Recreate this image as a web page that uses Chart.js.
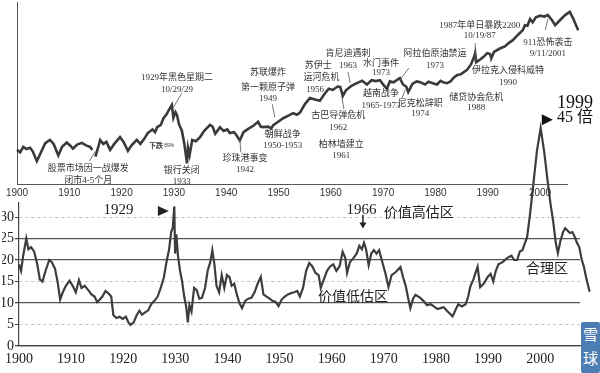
<!DOCTYPE html>
<html>
<head>
<meta charset="utf-8">
<script src="https://cdn.jsdelivr.net/npm/chart.js@4"></script>
<style>
  body { margin: 0; background: #fff; }
  #wrap { position: relative; width: 600px; height: 373px; overflow: hidden; }
  canvas { position: absolute; left: 0; top: 0; }
  #logo { position: absolute; left: 581px; top: 322px; width: 19px; height: 51px; background: #4d7eb3;
          color: #fff; font: 15px "Noto Sans CJK SC"; line-height: 24px; text-align: center; border-radius: 2px; }
</style>
</head>
<body>
<div id="wrap">
  <canvas id="peChart" width="600" height="373"></canvas>
  <canvas id="dowChart" width="600" height="200"></canvas>
  <div id="logo">雪<br>球</div>
</div>
<script>
// Dow Jones (top panel, log scale)
const dowYears = [
  1900.0, 1900.6, 1901.2, 1901.8, 1902.5, 1903.0, 1903.8, 1904.5, 1905.4, 1906.3, 1907.0, 1907.9, 1908.6, 1909.5,
  1910.2, 1910.7, 1911.5, 1912.4, 1913.2, 1914.0, 1914.4, 1914.6, 1915.0, 1915.5, 1915.9, 1916.5, 1917.1, 1917.8, 1918.6, 1919.7,
  1920.4, 1921.2, 1921.9, 1922.9, 1923.6, 1924.3, 1925.0, 1925.9, 1926.4, 1926.8, 1927.5, 1928.0, 1928.6, 1929.0, 1929.6, 1929.9,
  1930.3, 1930.6, 1931.0, 1931.5, 1932.0, 1932.5, 1932.7, 1933.0, 1933.5, 1934.2, 1935.0, 1935.8, 1936.9, 1937.4, 1937.9, 1938.8, 1939.5,
  1940.2, 1940.7, 1941.5, 1942.0, 1942.6, 1943.3, 1944.2, 1945.2, 1946.1, 1946.6, 1947.0, 1948.0, 1948.6, 1949.0,
  1950.0, 1950.9, 1951.8, 1952.8, 1953.5, 1954.1, 1955.0, 1956.0, 1956.8, 1957.9, 1958.8, 1959.6,
  1960.4, 1961.3, 1961.8, 1962.3, 1962.9, 1963.6, 1964.2, 1965.2, 1966.0, 1966.9, 1967.8, 1968.6, 1969.4,
  1970.0, 1970.7, 1971.3, 1972.0, 1972.8, 1973.2, 1973.8, 1974.4, 1974.8, 1975.6, 1976.4, 1977.1, 1978.0, 1978.7, 1979.5,
  1980.3, 1981.0, 1981.6, 1982.2, 1982.9, 1983.5, 1984.1, 1984.9, 1986.0, 1986.8, 1987.4, 1987.6, 1987.8, 1988.5, 1989.2, 1989.9,
  1990.4, 1990.7, 1991.2, 1992.4, 1993.3, 1994.0, 1994.8, 1995.8, 1996.7, 1997.1, 1997.6, 1998.1, 1998.6, 1999.2,
  2000.0, 2000.8, 2001.5, 2002.3, 2002.9, 2003.8, 2004.8, 2005.7, 2006.3, 2007.3
];
const dowValues = [
  55, 50, 62, 57, 60, 52, 35, 48, 72, 82, 70, 44, 62, 74,
  65, 58, 68, 73, 66, 62, 55, null, 42, 60, 82, 70, 76, 55, 70, 92,
  75, 53, 66, 82, 70, 85, 108, 125, 112, 137, 150, 196, 230, 270, 335, 200,
  250, 221, 150, 121, 70, 32, 60, 45, 82, 78, 92, 118, 150, 140, 105, 137, 118,
  125, 108, 112, 98, 80, 112, 128, 145, 170, 140, 137, 140, 130, 148,
  172, 196, 215, 240, 225, 245, 340, 440, 420, 395, 520, 640,
  610, 700, 690, 480, 600, 680, 740, 820, 880, 760, 900, 870, 903,
  760, 640, 860, 830, 930, 980, 760, 700, 560, 780, 860, 833, 760, 850, 800,
  760, 880, 820, 800, 860, 1000, 1100, 1150, 1350, 1700, 2300, 2670, 1860, 2050, 2300, 2670,
  2600, 2200, 2800, 3250, 3500, 4000, 4500, 5600, 6700, 8200, 8000, 10500, 9200, 11300,
  12000, 11600, 12300, 10000, 8200, 10000, 12300, 14000, 10900, 6700
];

// Shiller P/E (bottom panel)
const peYears = [
  1900.0, 1900.4, 1900.8, 1901.4, 1901.8, 1902.3, 1902.9, 1903.5, 1904.0, 1904.5, 1905.1, 1905.8, 1906.3, 1906.9, 1907.4, 1907.9, 1908.4, 1909.0, 1909.7,
  1910.3, 1910.9, 1911.5, 1912.0, 1912.6, 1913.3, 1913.9, 1914.5, 1915.0, 1915.5, 1916.0, 1916.6, 1917.2, 1917.7, 1918.1, 1918.7, 1919.3, 1919.9,
  1920.5, 1921.0, 1921.4, 1922.0, 1922.6, 1923.1, 1923.6, 1924.2, 1924.8, 1925.4, 1926.0, 1926.6, 1927.2, 1927.8, 1928.3, 1928.8, 1929.2, 1929.5, 1929.8, 1929.95,
  1930.2, 1930.5, 1930.9, 1931.3, 1931.7, 1932.1, 1932.4, 1932.7, 1933.1, 1933.6, 1934.1, 1934.6, 1935.1, 1935.7, 1936.2, 1936.7, 1937.1, 1937.5, 1937.9, 1938.4, 1938.9, 1939.4, 1939.9,
  1940.4, 1940.8, 1941.3, 1941.8, 1942.3, 1942.8, 1943.4, 1944.0, 1944.6, 1945.2, 1945.8, 1946.4, 1946.9, 1947.5, 1948.1, 1948.6, 1949.2, 1949.8,
  1950.4, 1951.0, 1951.6, 1952.2, 1952.8, 1953.4, 1953.9, 1954.5, 1955.1, 1955.7, 1956.3, 1956.9, 1957.5, 1957.9, 1958.5, 1959.1, 1959.7,
  1960.3, 1960.9, 1961.5, 1962.1, 1962.6, 1962.95, 1963.5, 1964.2, 1964.8, 1965.3, 1965.8, 1966.2, 1966.6, 1967.1, 1967.6, 1968.1, 1968.6, 1969.1, 1969.6,
  1970.3, 1970.9, 1971.5, 1972.3, 1973.2, 1973.7, 1974.2, 1974.7, 1975.1, 1975.6, 1976.1, 1976.6, 1977.0, 1977.6, 1978.3, 1979.0, 1979.6,
  1980.3, 1980.9, 1981.5, 1982.2, 1982.7, 1983.2, 1983.8, 1984.3, 1985.0, 1985.7, 1986.2, 1986.6, 1987.2, 1987.6, 1988.0, 1988.5, 1989.2, 1989.9,
  1990.5, 1991.0, 1991.5, 1992.0, 1992.8, 1993.7, 1994.5, 1995.0, 1995.6, 1996.1, 1996.6, 1997.1, 1997.5, 1998.1, 1998.7, 1999.4,
  2000.1, 2000.8, 2001.5, 2002.0, 2002.5, 2003.0, 2003.4, 2003.9, 2004.4, 2004.8, 2005.3, 2005.7, 2006.2, 2006.7, 2007.0, 2007.5, 2008.0, 2008.4, 2008.9, 2009.5
];
const peValues = [
  19.0, 17.5, 21.0, 25.0, 22.5, 23.0, 22.0, 19.0, 15.5, 15.0, 17.5, 20.0, 19.5, 18.0, 15.0, 10.8, 12.5, 14.0, 15.2,
  14.0, 12.5, 15.3, 13.5, 14.0, 13.0, 12.0, 11.5, 10.2, 10.8, 11.5, 12.8, 12.2, 11.5, 7.2, 6.5, 6.8, 6.3,
  6.8, 5.5, 4.9, 5.5, 7.2, 8.2, 7.3, 7.8, 8.3, 9.8, 10.5, 11.5, 13.5, 16.0, 19.5, 22.5, 26.5, 27.5, 32.5, 21.5,
  26.0, 21.0, 17.5, 15.0, 11.5, 9.0, 5.5, 9.5, 8.0, 13.5, 13.0, 11.0, 11.2, 13.5, 17.5, 19.5, 22.3, 19.0, 14.0, 12.5, 16.5, 13.5, 16.5,
  16.0, 14.0, 14.5, 12.0, 10.0, 8.8, 10.5, 11.0, 11.2, 12.5, 14.5, 16.1, 12.0, 11.5, 11.0, 10.5, 10.3, 9.3,
  10.8, 11.5, 12.0, 12.3, 12.5, 12.8, 11.5, 13.5, 17.5, 19.3, 18.5, 17.0, 16.5, 13.5, 15.5, 17.5, 18.5,
  19.0, 17.5, 18.5, 21.9, 20.5, 17.0, 19.5, 20.5, 21.5, 23.3, 22.5, 24.0, 22.5, 18.8, 21.5, 22.3, 21.5, 22.3, 20.0,
  17.0, 13.7, 16.5, 17.2, 18.4, 16.0, 14.0, 11.0, 8.8, 11.0, 11.9, 11.5, 11.2, 10.5, 9.5, 9.7, 9.2,
  8.6, 8.8, 9.0, 8.1, 7.5, 6.9, 8.5, 9.7, 9.2, 9.7, 11.5, 13.8, 15.5, 17.0, 18.4, 13.7, 14.5, 16.0,
  16.8, 15.0, 17.5, 19.0, 19.5, 20.5, 21.0, 20.0, 20.0, 22.0, 22.3, 24.0, 25.3, 31.0, 37.7, 45.5,
  50.7, 45.0, 37.7, 33.0, 29.0, 24.0, 21.6, 24.5, 26.5, 27.4, 26.8, 26.3, 26.5, 25.2, 24.2, 23.0, 20.0, 18.4, 15.5, 12.6
];

const decadeTicks = [1900, 1910, 1920, 1930, 1940, 1950, 1960, 1970, 1980, 1990, 2000];
const peTicks = [0, 5, 10, 15, 20, 25, 30];
const solidLevels = [0, 10, 20, 25];

// event labels on the Dow panel: [year, dow level, text]
const dowNotes = [
  [1913.6, 26, '股票市场因一战爆发'], [1913.6, 16.3, '闭市4-5个月'],
  [1930.6, 980, '1929年黑色星期二'], [1930.6, 630, '10/29/29'],
  [1931.5, 24, '银行关闭'], [1931.5, 15.6, '1933'],
  [1943.6, 39, '珍珠港事变'], [1943.6, 25, '1942'],
  [1948.0, 1200, '苏联爆炸'], [1948.0, 682, '第一颗原子弹'], [1948.0, 438, '1949'],
  [1950.8, 103, '朝鲜战争'], [1950.8, 64, '1950-1953'],
  [1957.6, 1586, '苏伊士'], [1958.2, 980, '运河危机'], [1957.0, 630, '1956'],
  [1961.4, 221, '古巴导弹危机'], [1961.4, 137, '1962'],
  [1962.0, 69, '柏林墙建立'], [1962.0, 44, '1961'],
  [1963.3, 2567, '肯尼迪遇刺'], [1963.3, 1650, '1963'],
  [1969.6, 1788, '水门事件'], [1969.6, 1200, '1973'],
  [1969.6, 536, '越南战争'], [1969.6, 331, '1965-1973'],
  [1979.9, 2670, '阿拉伯原油禁运'], [1979.9, 1650, '1973'],
  [1977.1, 359, '尼克松辞职'], [1977.1, 240, '1974'],
  [1988.5, 7900, '1987年单日暴跌2200'], [1988.5, 5300, '10/19/87'],
  [1993.9, 1300, '伊拉克入侵科威特'], [1993.9, 833, '1990'],
  [1987.8, 456, '储贷协会危机'], [1987.8, 305, '1988'],
  [2001.5, 4150, '911恐怖袭击'], [2001.5, 2670, '9/11/2001']
];
const dowLeaders = [
  [1913.8, 35, 1915.0, 52], [1931.5, 536, 1929.8, 293], [1942.8, 50, 1942.6, 88],
  [1948.8, 344, 1949.3, 204], [1962.5, 282, 1962.1, 475], [1963.3, 1246, 1963.7, 801],
  [1974.9, 1463, 1973.2, 903], [1973.6, 438, 1974.2, 604], [1987.6, 3990, 1987.6, 1860],
  [1990.4, 2670, 1990.6, 1860], [2001.0, 6730, 2001.5, 10470]
];
const peakNotes = [[2006.7, 359, '1999'], [2006.7, 196, '45 倍']];

// labels on the P/E panel: [year, pe, text]
const peNotes = [
  [1919.1, 31.6, '1929'], [1965.7, 31.6, '1966'],
  [1976.7, 30.9, '价值高估区'], [2001.3, 17.9, '合理区'], [1964.1, 11.4, '价值低估区']
];

const SERIF = '"Liberation Serif", "Noto Sans CJK SC"';

function pos(chart, yId, x, y) {
  return [chart.scales.x.getPixelForValue(x), chart.scales[yId].getPixelForValue(y)];
}
function rightTriangle(ctx, cx, cy, w, h) {
  ctx.beginPath();
  ctx.moveTo(cx - w / 2, cy - h / 2);
  ctx.lineTo(cx + w / 2, cy);
  ctx.lineTo(cx - w / 2, cy + h / 2);
  ctx.closePath();
  ctx.fill();
}

const dowNotesPlugin = {
  id: 'dowNotes',
  afterDatasetsDraw(chart) {
    const ctx = chart.ctx;
    ctx.save();
    ctx.strokeStyle = '#555';
    ctx.lineWidth = 0.8;
    dowLeaders.forEach(([x1, y1, x2, y2]) => {
      const a = pos(chart, 'y', x1, y1), b = pos(chart, 'y', x2, y2);
      ctx.beginPath(); ctx.moveTo(a[0], a[1]); ctx.lineTo(b[0], b[1]); ctx.stroke();
    });
    ctx.fillStyle = '#333';
    ctx.textAlign = 'center';
    ctx.textBaseline = 'middle';
    ctx.font = '9px ' + SERIF;
    dowNotes.forEach(([x, y, t]) => { const p = pos(chart, 'y', x, y); ctx.fillText(t, p[0], p[1]); });

    // "下跌" tag
    let p = pos(chart, 'y', 1926.6, 66);
    ctx.font = 'bold 7px "Noto Sans CJK SC"';
    ctx.fillText('下跌', p[0], p[1]);
    p = pos(chart, 'y', 1929.1, 66);
    ctx.font = '5px "Liberation Sans"';
    ctx.fillText('89%', p[0], p[1]);

    ctx.fillStyle = '#111';
    peakNotes.forEach(([x, y, t], i) => {
      const q = pos(chart, 'y', x, y);
      ctx.font = (i === 0 ? '18px ' : '16px ') + SERIF;
      ctx.fillText(t, q[0], q[1]);
    });
    p = pos(chart, 'y', 2001.4, 185);
    rightTriangle(ctx, p[0], p[1], 11, 11);
    ctx.restore();
  }
};

const peNotesPlugin = {
  id: 'peNotes',
  afterDatasetsDraw(chart) {
    const ctx = chart.ctx;
    ctx.save();
    ctx.fillStyle = '#222';
    ctx.textAlign = 'center';
    ctx.textBaseline = 'middle';
    peNotes.forEach(([x, y, t]) => {
      const p = pos(chart, 'y', x, y);
      ctx.font = (/\d/.test(t) ? '15px ' : '14px ') + SERIF;
      ctx.fillText(t, p[0], p[1]);
    });
    let p = pos(chart, 'y', 1927.7, 31.4);
    rightTriangle(ctx, p[0], p[1], 11, 10);
    // 1966 arrow
    const a = pos(chart, 'y', 1966.0, 30.5), b = pos(chart, 'y', 1966.0, 27.3);
    ctx.strokeStyle = '#222';
    ctx.lineWidth = 1.5;
    ctx.beginPath(); ctx.moveTo(a[0], a[1]); ctx.lineTo(b[0], b[1] - 4); ctx.stroke();
    ctx.beginPath();
    ctx.moveTo(b[0] - 3.5, b[1] - 6); ctx.lineTo(b[0] + 3.5, b[1] - 6); ctx.lineTo(b[0], b[1]);
    ctx.closePath(); ctx.fill();
    ctx.restore();
  }
};

const dowPoints = dowYears.map((x, i) => ({ x: x, y: dowValues[i] }));
const pePoints = peYears.map((x, i) => ({ x: x, y: peValues[i] }));

// x range set after data limits so that the last points past the axis end are still drawn
function yearRange(lo, hi) {
  return s => { s.min = lo; s.max = hi; };
}

new Chart(document.getElementById('peChart'), {
  type: 'line',
  data: { datasets: [{ data: pePoints, borderColor: '#3d3d3d', borderWidth: 2.2, pointRadius: 0, tension: 0, clip: false }] },
  options: {
    responsive: false,
    animation: false,
    layout: { padding: { top: 203, right: 20, left: 0, bottom: 0 } },
    plugins: { legend: { display: false }, tooltip: { enabled: false } },
    scales: {
      x: {
        type: 'linear', bounds: 'data',
        afterDataLimits: yearRange(1900, 2007.65),
        afterBuildTicks: s => { s.ticks = decadeTicks.map(v => ({ value: v })); },
        afterFit: s => { s.height = 27; },
        grid: { display: false, drawTicks: false },
        border: { display: true, color: '#444', width: 1.2 },
        ticks: { padding: 5, maxRotation: 0, autoSkip: false, color: '#222',
                 font: { family: '"Liberation Serif"', size: 14 }, callback: v => String(v) }
      },
      y: {
        type: 'linear', min: 0, max: 33.26,
        afterBuildTicks: s => { s.ticks = peTicks.map(v => ({ value: v })); },
        afterFit: s => { s.width = 17; },
        grid: {
          color: c => solidLevels.includes(c.tick && c.tick.value) ? '#555' : '#c4c4c4',
          lineWidth: c => solidLevels.includes(c.tick && c.tick.value) ? 1.3 : 1,
          tickLength: 4, tickColor: '#444'
        },
        border: {
          display: true, color: '#444', width: 1.2,
          dash: c => (c.tick && !solidLevels.includes(c.tick.value)) ? [3, 3] : []
        },
        ticks: { padding: 1, color: '#222', font: { family: '"Liberation Serif"', size: 14 } }
      }
    }
  },
  plugins: [peNotesPlugin]
});

new Chart(document.getElementById('dowChart'), {
  type: 'line',
  data: { datasets: [{ data: dowPoints, borderColor: '#3a3a3a', borderWidth: 2.6, pointRadius: 0, tension: 0, clip: false, spanGaps: false }] },
  options: {
    responsive: false,
    animation: false,
    layout: { padding: { top: 2, right: 33, left: 0, bottom: 0 } },
    plugins: { legend: { display: false }, tooltip: { enabled: false } },
    scales: {
      x: {
        type: 'linear', bounds: 'data',
        afterDataLimits: yearRange(1900, 2005.16),
        afterBuildTicks: s => { s.ticks = decadeTicks.map(v => ({ value: v })); },
        afterFit: s => { s.height = 16; },
        grid: { display: false, drawTicks: false },
        border: { display: true, color: '#555', width: 1 },
        ticks: { padding: 3, maxRotation: 0, autoSkip: false, color: '#333',
                 font: { family: '"Liberation Sans"', size: 10 }, callback: v => String(v) }
      },
      y: {
        type: 'logarithmic', min: 14, max: 20800,
        afterFit: s => { s.width = 17; },
        grid: { display: false, drawTicks: false },
        border: { display: true, color: '#555', width: 1 },
        ticks: { display: false }
      }
    }
  },
  plugins: [dowNotesPlugin]
});
</script>
</body>
</html>
